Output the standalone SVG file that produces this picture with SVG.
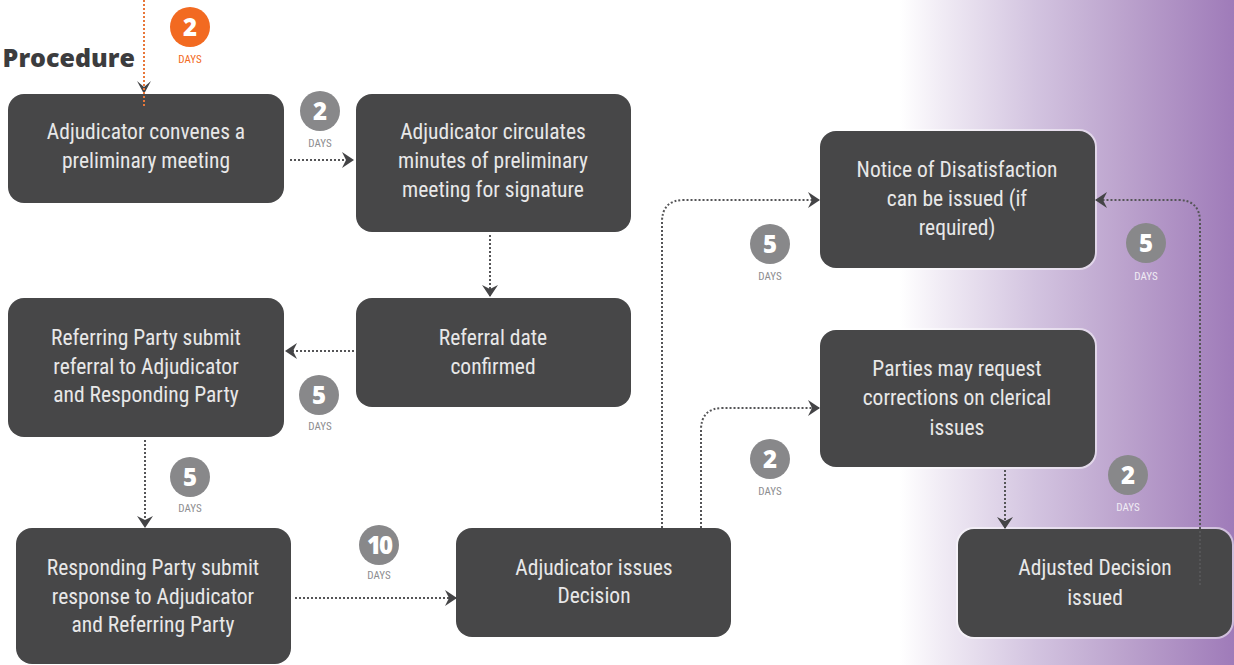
<svg xmlns="http://www.w3.org/2000/svg" width="1234" height="665" viewBox="0 0 1234 665">
<defs>
<linearGradient id="bg" x1="0" y1="0" x2="1" y2="0">
<stop offset="0" stop-color="#ffffff"/>
<stop offset="0.12" stop-color="#f1ecf5"/>
<stop offset="0.4" stop-color="#d3c4e0"/>
<stop offset="0.7" stop-color="#b99fcb"/>
<stop offset="1" stop-color="#9f7bb9"/>
</linearGradient>
<marker id="ch" viewBox="0 0 13 16" refX="11" refY="8" markerWidth="13" markerHeight="16" markerUnits="userSpaceOnUse" orient="auto">
<path d="M0,0 L12,8 L0,16 L4,8 Z" fill="#444446"/>
</marker>
<style>
.halo{fill:#ffffff;fill-opacity:0.5}
.box{fill:#474748}
.t{font-family:Roboto,"Liberation Sans",sans-serif;font-size:21.5px;font-stretch:condensed;fill:#e8e8e8;text-anchor:middle}
.c{fill:none;stroke:#555557;stroke-width:2;stroke-dasharray:2 2}
.bc{fill:#88888a}
.bn{font-family:"Open Sans","Liberation Sans",sans-serif;font-weight:800;font-size:24px;fill:#ffffff;text-anchor:middle}
.bd{font-family:Roboto,"Liberation Sans",sans-serif;font-stretch:condensed;font-size:11px;fill:#8d8d8f;text-anchor:middle}
.bdw{font-family:Roboto,"Liberation Sans",sans-serif;font-stretch:condensed;font-size:11px;fill:#f0ecf4;text-anchor:middle}
</style>
</defs>
<rect x="0" y="0" width="1234" height="665" fill="#ffffff"/>
<rect x="900" y="0" width="334" height="665" fill="url(#bg)"/>

<text x="135" y="67" font-family="'Open Sans','Liberation Sans',sans-serif" font-weight="800" font-size="25" fill="#3c3c3e" text-anchor="end">Procedure</text>

<g id="n1"><rect class="box" x="8" y="94" width="276" height="109" rx="16"/><text class="t"><tspan x="146" y="139">Adjudicator convenes a</tspan><tspan x="146" y="168">preliminary meeting</tspan></text></g>
<g id="n2"><rect class="box" x="356" y="94" width="275" height="138" rx="16"/><text class="t"><tspan x="493" y="139">Adjudicator circulates</tspan><tspan x="493" y="168">minutes of preliminary</tspan><tspan x="493" y="197">meeting for signature</tspan></text></g>
<g id="n3"><rect class="box" x="356" y="298" width="275" height="109" rx="16"/><text class="t"><tspan x="493" y="345">Referral date</tspan><tspan x="493" y="374">confirmed</tspan></text></g>
<g id="n4"><rect class="box" x="8" y="298" width="276" height="139" rx="16"/><text class="t"><tspan x="146" y="345">Referring Party submit</tspan><tspan x="146" y="374">referral to Adjudicator</tspan><tspan x="146" y="402">and Responding Party</tspan></text></g>
<g id="n5"><rect class="box" x="16" y="528" width="275" height="136" rx="16"/><text class="t"><tspan x="153" y="575">Responding Party submit</tspan><tspan x="153" y="604">response to Adjudicator</tspan><tspan x="153" y="632">and Referring Party</tspan></text></g>
<g id="n6"><rect class="box" x="456" y="528" width="275" height="109" rx="16"/><text class="t"><tspan x="594" y="575">Adjudicator issues</tspan><tspan x="594" y="603">Decision</tspan></text></g>
<g id="n7"><rect class="halo" x="818" y="129" width="279" height="141" rx="18"/><rect class="box" x="820" y="131" width="275" height="137" rx="16"/><text class="t"><tspan x="957" y="177">Notice of Disatisfaction</tspan><tspan x="957" y="206">can be issued (if</tspan><tspan x="957" y="235">required)</tspan></text></g>
<g id="n8"><rect class="halo" x="818" y="328" width="279" height="141" rx="18"/><rect class="box" x="820" y="330" width="275" height="137" rx="16"/><text class="t"><tspan x="957" y="376">Parties may request</tspan><tspan x="957" y="405">corrections on clerical</tspan><tspan x="957" y="435">issues</tspan></text></g>
<g id="n9"><rect class="halo" x="956" y="527" width="278" height="112" rx="18"/><rect class="box" x="958" y="529" width="274" height="108" rx="16"/><text class="t"><tspan x="1095" y="575">Adjusted Decision</tspan><tspan x="1095" y="605">issued</tspan></text></g>

<g id="connectors">
<path d="M144,87 L151,81 L144,94 L137,81 Z" fill="#444446"/>
<path d="M144,0 V108" fill="none" stroke="#e8773a" stroke-width="2" stroke-dasharray="2 2"/>
<path class="c" d="M290,160 H353" marker-end="url(#ch)"/>
<path class="c" d="M490,235 V296" marker-end="url(#ch)"/>
<path class="c" d="M354,351 H286" marker-end="url(#ch)"/>
<path class="c" d="M145,440 V527" marker-end="url(#ch)"/>
<path class="c" d="M295,598 H456" marker-end="url(#ch)"/>
<path class="c" d="M662,528 V222 Q662,200 684,200 H819" marker-end="url(#ch)"/>
<path class="c" d="M701,528 V430 Q701,408 723,408 H819" marker-end="url(#ch)"/>
<path class="c" d="M1005,470 V528" marker-end="url(#ch)"/>
<path class="c" d="M1200,585 V222 Q1200,200 1178,200 H1096" marker-end="url(#ch)"/>
</g>

<g id="b0"><circle cx="190" cy="27" r="20" fill="#f26a21"/><text class="bn" x="190" y="36">2</text><text x="190" y="63" font-family="Roboto,'Liberation Sans',sans-serif" font-stretch="condensed" font-size="11" fill="#f26a21" text-anchor="middle">DAYS</text></g>
<g id="b1"><circle class="bc" cx="320" cy="111" r="20"/><text class="bn" x="320" y="120">2</text><text class="bd" x="320" y="147">DAYS</text></g>
<g id="b2"><circle class="bc" cx="319" cy="395" r="20"/><text class="bn" x="319" y="404">5</text><text class="bd" x="320" y="430">DAYS</text></g>
<g id="b3"><circle class="bc" cx="190" cy="477" r="20"/><text class="bn" x="190" y="486">5</text><text class="bd" x="190" y="512">DAYS</text></g>
<g id="b4"><circle class="bc" cx="379" cy="545" r="20"/><text class="bn" x="379" y="554" letter-spacing="-2">10</text><text class="bd" x="379" y="579">DAYS</text></g>
<g id="b5"><circle class="bc" cx="770" cy="244" r="20"/><text class="bn" x="770" y="253">5</text><text class="bd" x="770" y="280">DAYS</text></g>
<g id="b6"><circle class="bc" cx="770" cy="459" r="20"/><text class="bn" x="770" y="468">2</text><text class="bd" x="770" y="495">DAYS</text></g>
<g id="b7"><circle class="bc" cx="1146" cy="243" r="20"/><text class="bn" x="1146" y="252">5</text><text class="bdw" x="1146" y="280">DAYS</text></g>
<g id="b8"><circle class="bc" cx="1128" cy="475" r="20"/><text class="bn" x="1128" y="484">2</text><text class="bdw" x="1128" y="511">DAYS</text></g>
</svg>
